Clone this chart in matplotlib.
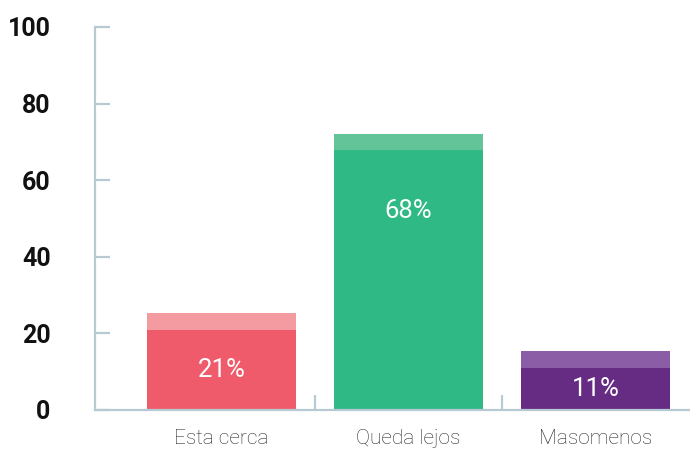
import matplotlib.pyplot as plt

# data
categories = ["Esta cerca", "Queda lejos", "Masomenos"]
values = [21, 68, 11]
cap = [4.3, 4.0, 4.5]  # lighter band on top of every bar
colors = ["#EF5B6A", "#2EB985", "#662C83"]
cap_colors = ["#F39BA1", "#63C499", "#8A5DA6"]
yticks = [0, 20, 40, 60, 80, 100]

axis_col = "#B7CAD3"

fig = plt.figure(figsize=(6.9, 4.5), dpi=100)
ax = fig.add_axes([0.1377, 0.089, 0.8623, 0.851])

x = list(range(len(categories)))
ax.bar(x, values, width=0.8, color=colors, zorder=2)
ax.bar(x, cap, bottom=values, width=0.8, color=cap_colors, zorder=2)

for i, v in enumerate(values):
    ax.text(i, max(v / 2, v - 16), f"{v}%", ha="center", va="center",
            color="white", fontsize=18.5, family="Roboto", weight="normal")

ax.set_xlim(-0.676, 2.505)
ax.set_ylim(0, 100)

for s in ["top", "right"]:
    ax.spines[s].set_visible(False)
for s in ["left", "bottom"]:
    ax.spines[s].set_color(axis_col)
    ax.spines[s].set_linewidth(1.6)

ax.set_yticks(yticks)
ax.set_yticklabels([str(t) for t in yticks], fontsize=18, family="Roboto",
                   weight="bold", color="#111111")
ax.tick_params(axis="y", direction="in", length=11, width=1.6,
               color=axis_col, pad=32)

# separators between categories, names as minor ticks
ax.set_xticks([0.5, 1.5])
ax.set_xticklabels([])
ax.tick_params(axis="x", which="major", direction="in", length=11,
               width=1.6, color=axis_col)
ax.set_xticks(x, minor=True)
ax.set_xticklabels(categories, minor=True, fontsize=15, family="Roboto",
                   weight="light", color="#2b2b2b")
ax.tick_params(axis="x", which="minor", length=0, pad=14)

fig.savefig("out.png", dpi=100)
